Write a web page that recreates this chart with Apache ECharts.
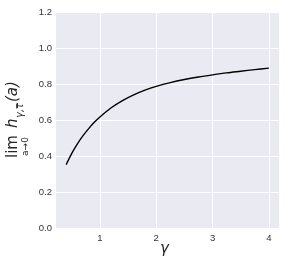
<!DOCTYPE html>
<html>
<head>
<meta charset="utf-8">
<script src="https://cdn.jsdelivr.net/npm/echarts@6/dist/echarts.min.js"></script>
<style>
html,body{margin:0;padding:0;background:#fff;}
#chart{width:286px;height:269px;}
</style>
</head>
<body>
<div id="chart"></div>
<script>
const gammaValues = [0.4, 0.5, 0.6, 0.7, 0.8, 0.9, 1.0, 1.2, 1.4, 1.6, 1.8, 2.0, 2.25, 2.5, 2.75, 3.0, 3.25, 3.5, 3.75, 4.0];
const limitValues = [0.352, 0.415, 0.468, 0.513, 0.552, 0.587, 0.617, 0.668, 0.708, 0.740, 0.766, 0.787, 0.808, 0.825, 0.839, 0.851, 0.862, 0.871, 0.880, 0.888];
const xTickValues = [1, 2, 3, 4];
const yTickValues = [0.0, 0.2, 0.4, 0.6, 0.8, 1.0, 1.2];

const chart = echarts.init(document.getElementById('chart'), null, {renderer: 'canvas'});
const mainFont = '"DejaVu Sans"';
const labelColor = '#262626';

const option = {
  animation: false,
  backgroundColor: '#ffffff',
  grid: {
    left: 56, right: 7, top: 12, bottom: 41,
    show: true, backgroundColor: '#EAEAF2', borderWidth: 0
  },
  xAxis: {
    type: 'value',
    min: 0.22, max: 4.18,
    axisLine: {show: false},
    axisTick: {show: false, customValues: xTickValues},
    axisLabel: {
      customValues: xTickValues,
      margin: 5, fontSize: 9.5, color: '#333', fontFamily: '"Liberation Sans"'
    },
    splitLine: {show: false}
  },
  yAxis: {
    type: 'value',
    min: yTickValues[0], max: yTickValues[yTickValues.length - 1], interval: 0.2,
    axisLine: {show: false},
    axisTick: {show: false},
    axisLabel: {
      margin: 4, fontSize: 9.5, color: '#333', fontFamily: '"Liberation Sans"',
      formatter: v => v.toFixed(1)
    },
    splitLine: {show: true, lineStyle: {color: '#ffffff', width: 1}}
  },
  series: [
    {
      type: 'line',
      data: xTickValues.map(v => [v, 0]),
      showSymbol: false,
      lineStyle: {opacity: 0},
      silent: true,
      z: 1,
      markLine: {
        silent: true,
        z: 1,
        symbol: 'none',
        label: {show: false},
        lineStyle: {color: '#ffffff', width: 1, type: 'solid'},
        data: xTickValues.map(v => ({xAxis: v}))
      }
    },
    {
      type: 'line',
      data: gammaValues.map((g, i) => [g, limitValues[i]]),
      smooth: 0.3,
      showSymbol: false,
      z: 10,
      lineStyle: {color: '#000000', width: 1.4}
    }
  ],
  graphic: [
    {
      type: 'text', left: 160, top: 242,
      style: {text: 'γ', font: 'italic 15px ' + mainFont, fill: labelColor}
    },
    {
      type: 'group', x: 18, y: 158, rotation: Math.PI / 2,
      children: [
        {type: 'text', x: 0, y: -5, style: {text: 'lim', font: '15px ' + mainFont, fill: labelColor, textAlign: 'left', textVerticalAlign: 'middle'}},
        {type: 'text', x: 11.5, y: 8, style: {text: 'a→0', font: '9px ' + mainFont, fill: labelColor, textAlign: 'center', textVerticalAlign: 'middle'}},
        {type: 'text', x: 30, y: -5, style: {text: 'h', font: 'italic 15px ' + mainFont, fill: labelColor, textAlign: 'left', textVerticalAlign: 'middle'}},
        {type: 'text', x: 40, y: 2, style: {text: 'γ,τ', font: 'italic 10px ' + mainFont, fill: labelColor, textAlign: 'left', textVerticalAlign: 'middle'}},
        {type: 'line', shape: {x1: 49.5, y1: -1.5, x2: 54.5, y2: -1.5}, style: {stroke: labelColor, lineWidth: 0.8}},
        {type: 'text', x: 56, y: -5, style: {text: '(a)', font: 'italic 15px ' + mainFont, fill: labelColor, textAlign: 'left', textVerticalAlign: 'middle'}}
      ]
    }
  ]
};
chart.setOption(option);
</script>
</body>
</html>
